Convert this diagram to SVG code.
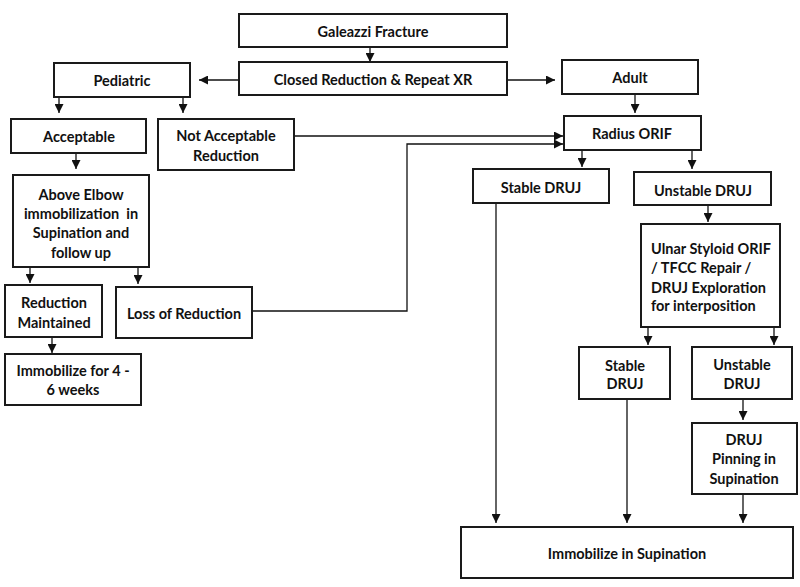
<svg xmlns="http://www.w3.org/2000/svg" width="800" height="587" viewBox="0 0 800 587">
<style>
.box{fill:#fff;stroke:#1a1a1a;stroke-width:2}
.t{font-family:Lato,"Open Sans","Liberation Sans",sans-serif;font-weight:bold;font-size:14.5px;fill:#111;text-anchor:middle;dominant-baseline:central}
.tl{text-anchor:start}
.c{fill:none;stroke:#111;stroke-width:1.3;marker-end:url(#ah)}
</style>
<defs>
<marker id="ah" markerUnits="userSpaceOnUse" markerWidth="9" markerHeight="9" viewBox="0 0 10 10" refX="10" refY="5" orient="auto">
<path d="M0,0 L10,5 L0,10 z" fill="#111"/>
</marker>
</defs>
<rect width="800" height="587" fill="#fff"/>
<g id="connectors">
<path class="c" d="M370,47 V62"/>
<path class="c" d="M239,80 H199"/>
<path class="c" d="M507,80 H555"/>
<path class="c" d="M59,97 V113"/>
<path class="c" d="M183,97 V113"/>
<path class="c" d="M294,136 H563"/>
<path class="c" d="M76,153 V169"/>
<path class="c" d="M30,267 V283"/>
<path class="c" d="M138,267 V284"/>
<path class="c" d="M52,337 V353"/>
<path class="c" d="M252,311 H407 V144 H563"/>
<path class="c" d="M635,94 V113"/>
<path class="c" d="M582,150 V167"/>
<path class="c" d="M692,150 V169"/>
<path class="c" d="M496,203 V523"/>
<path class="c" d="M708,205 V222"/>
<path class="c" d="M648,327 V345"/>
<path class="c" d="M774,327 V345"/>
<path class="c" d="M743,399 V420"/>
<path class="c" d="M627,399 V523"/>
<path class="c" d="M743,494 V523"/>
</g>
<g id="galeazzi"><rect class="box" x="239" y="14" width="268" height="33"/><text class="t" x="373" y="31">Galeazzi Fracture</text></g>
<g id="closed"><rect class="box" x="239" y="62" width="268" height="33"/><text class="t" x="373" y="79">Closed Reduction &amp; Repeat XR</text></g>
<g id="pediatric"><rect class="box" x="54" y="63" width="136" height="34"/><text class="t" x="122" y="80">Pediatric</text></g>
<g id="adult"><rect class="box" x="562" y="60" width="136" height="34"/><text class="t" x="630" y="77">Adult</text></g>
<g id="acceptable"><rect class="box" x="11" y="119" width="135" height="34"/><text class="t" x="79" y="136">Acceptable</text></g>
<g id="notacceptable"><rect class="box" x="158" y="119" width="136" height="51"/><text class="t" x="226" y="135">Not Acceptable</text><text class="t" x="226" y="155">Reduction</text></g>
<g id="radius"><rect class="box" x="564" y="116" width="137" height="34"/><text class="t" x="632" y="133">Radius ORIF</text></g>
<g id="aboveelbow"><rect class="box" x="13" y="175" width="136" height="92"/>
<text class="t" x="81" y="194">Above Elbow</text><text class="t" x="81" y="213" xml:space="preserve">immobilization  in</text><text class="t" x="81" y="232">Supination and</text><text class="t" x="81" y="252">follow up</text></g>
<g id="stabledruj"><rect class="box" x="473" y="169" width="136" height="34"/><text class="t" x="541" y="187">Stable DRUJ</text></g>
<g id="unstabledruj"><rect class="box" x="634" y="172" width="137" height="33"/><text class="t" x="703" y="190">Unstable DRUJ</text></g>
<g id="redmaint"><rect class="box" x="5" y="285" width="97" height="52"/><text class="t" x="54" y="302">Reduction</text><text class="t" x="54" y="322">Maintained</text></g>
<g id="loss"><rect class="box" x="116" y="287" width="136" height="51"/><text class="t" x="184" y="313">Loss of Reduction</text></g>
<g id="ulnar"><rect class="box" x="641" y="224" width="139" height="103"/>
<text class="t tl" x="651" y="248">Ulnar Styloid ORIF</text><text class="t tl" x="651" y="267">/ TFCC Repair /</text><text class="t tl" x="651" y="287">DRUJ Exploration</text><text class="t tl" x="651" y="305">for interposition</text></g>
<g id="immob46"><rect class="box" x="5" y="354" width="136" height="51"/><text class="t" x="73" y="370">Immobilize for 4 -</text><text class="t" x="73" y="389">6 weeks</text></g>
<g id="stable2"><rect class="box" x="579" y="347" width="91" height="52"/><text class="t" x="625" y="365">Stable</text><text class="t" x="625" y="383">DRUJ</text></g>
<g id="unstable2"><rect class="box" x="692" y="347" width="100" height="52"/><text class="t" x="742" y="364">Unstable</text><text class="t" x="742" y="383">DRUJ</text></g>
<g id="pinning"><rect class="box" x="692" y="423" width="105" height="71"/><text class="t" x="744" y="439">DRUJ</text><text class="t" x="744" y="458">Pinning in</text><text class="t" x="744" y="478">Supination</text></g>
<g id="immobsup"><rect class="box" x="461" y="527" width="332" height="51"/><text class="t" x="627" y="553">Immobilize in Supination</text></g>
</svg>
